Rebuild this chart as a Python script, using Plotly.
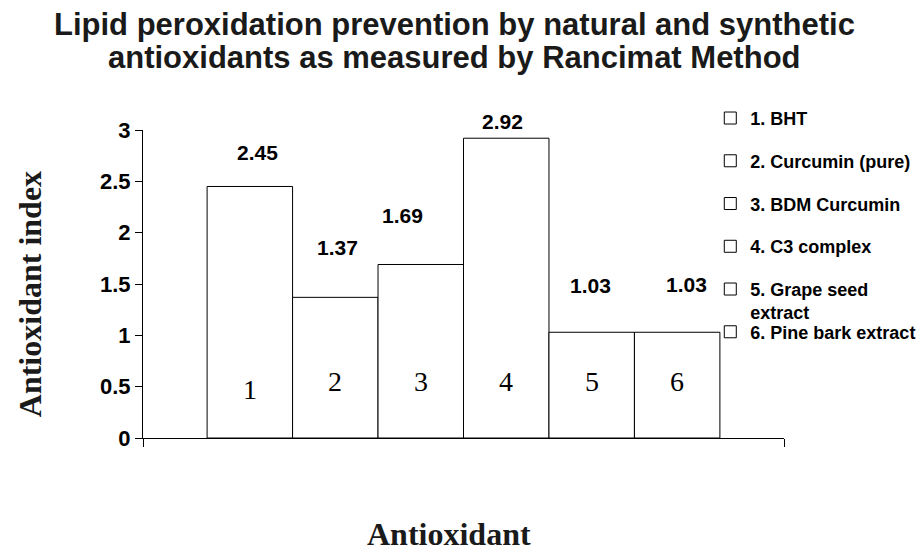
import plotly.graph_objects as go

# ---- data ----
categories = ["1", "2", "3", "4", "5", "6"]
legend_names = ["1. BHT", "2. Curcumin (pure)", "3. BDM Curcumin", "4. C3 complex",
                "5. Grape seed<br>extract", "6. Pine bark extract"]
values = [2.45, 1.37, 1.69, 2.92, 1.03, 1.03]
y_ticks = [0, 0.5, 1, 1.5, 2, 2.5, 3]
y_tick_labels = ["0", "0.5", "1", "1.5", "2", "2.5", "3"]
title_lines = ["Lipid peroxidation prevention by natural and synthetic",
               "antioxidants as measured by Rancimat Method"]
x_title = "Antioxidant"
y_title = "Antioxidant index"

# ---- style (label nudges in pixels, as placed in the original) ----
val_xshift = [8, 2, -18, -4, -1, 9]
val_yshift = [34, 50, 49, 17, 47, 48]
num_yshift = [-3, 5, 5, 5, 5, 5]

SANS = "Liberation Sans, Arial, sans-serif"
SERIF = "Liberation Serif, Times New Roman, serif"

fig = go.Figure()
positions = list(range(1, len(categories) + 1))
for i, (pos, v, name) in enumerate(zip(positions, values, legend_names)):
    fig.add_trace(go.Bar(
        x=[pos], y=[v], width=1, name=name,
        marker=dict(color="white", line=dict(color="black", width=1)),
        legend="legend" if i == 0 else f"legend{i+1}",
        hoverinfo="y",
    ))

annotations = []
for i, (pos, v) in enumerate(zip(positions, values)):
    annotations.append(dict(
        x=pos, y=v, xref="x", yref="y", text=f"{v:.2f}", showarrow=False,
        xshift=val_xshift[i], yshift=val_yshift[i], yanchor="middle",
        font=dict(family=SANS, size=21, color="black", weight="bold")))
    annotations.append(dict(
        x=pos, y=0.5, xref="x", yref="y", text=categories[i], showarrow=False,
        yshift=num_yshift[i], yanchor="middle",
        font=dict(family=SERIF, size=28, color="black")))

# chart title (two lines, tight spacing like the original)
for line, ty in zip(title_lines, [1.344, 1.234]):
    annotations.append(dict(
        x=0.4867, y=ty, xref="paper", yref="paper", xanchor="center", yanchor="middle",
        text=line, showarrow=False,
        font=dict(family=SANS, size=31, color="#1a1a1a", weight="bold")))

# axis titles
annotations.append(dict(
    x=0.477, y=-0.311, xref="paper", yref="paper", xanchor="center", yanchor="middle",
    text=x_title, showarrow=False,
    font=dict(family=SERIF, size=32, color="#1a1a1a", weight="bold")))
annotations.append(dict(
    x=-0.176, y=0.4675, xref="paper", yref="paper", xanchor="center", yanchor="middle",
    text=y_title, showarrow=False, textangle=-90,
    font=dict(family=SERIF, size=32, color="#1a1a1a", weight="bold")))

# legends: one per entry so spacing stays even like the original
leg_top = 1.098
leg_step = 0.1388
legends = {}
for i in range(len(categories)):
    key = "legend" if i == 0 else f"legend{i+1}"
    legends[key] = dict(
        x=0.885, xanchor="left", y=leg_top - i * leg_step, yanchor="top",
        bgcolor="rgba(0,0,0,0)", borderwidth=0, valign="top",
        font=dict(family=SANS, size=18, color="black", weight="bold"),
    )

fig.update_layout(
    width=916, height=552,
    margin=dict(l=135, r=140, t=122, b=122, autoexpand=False),
    paper_bgcolor="white", plot_bgcolor="white",
    showlegend=True,
    xaxis=dict(
        range=[-0.25, 7.25], showgrid=False, zeroline=False,
        showline=True, linecolor="black", linewidth=1,
        tickmode="array", tickvals=[-0.25, 7.25], ticktext=["", ""],
        ticks="outside", ticklen=8, tickcolor="black",
    ),
    yaxis=dict(
        range=[0, 3], showgrid=False, zeroline=False,
        showline=True, linecolor="black", linewidth=1,
        tickmode="array", tickvals=y_ticks, ticktext=y_tick_labels,
        ticks="outside", ticklen=7, tickcolor="black",
        tickfont=dict(family=SANS, size=22, color="black", weight="bold"),
    ),
    annotations=annotations,
    **legends,
)

fig.write_html("out.html")
